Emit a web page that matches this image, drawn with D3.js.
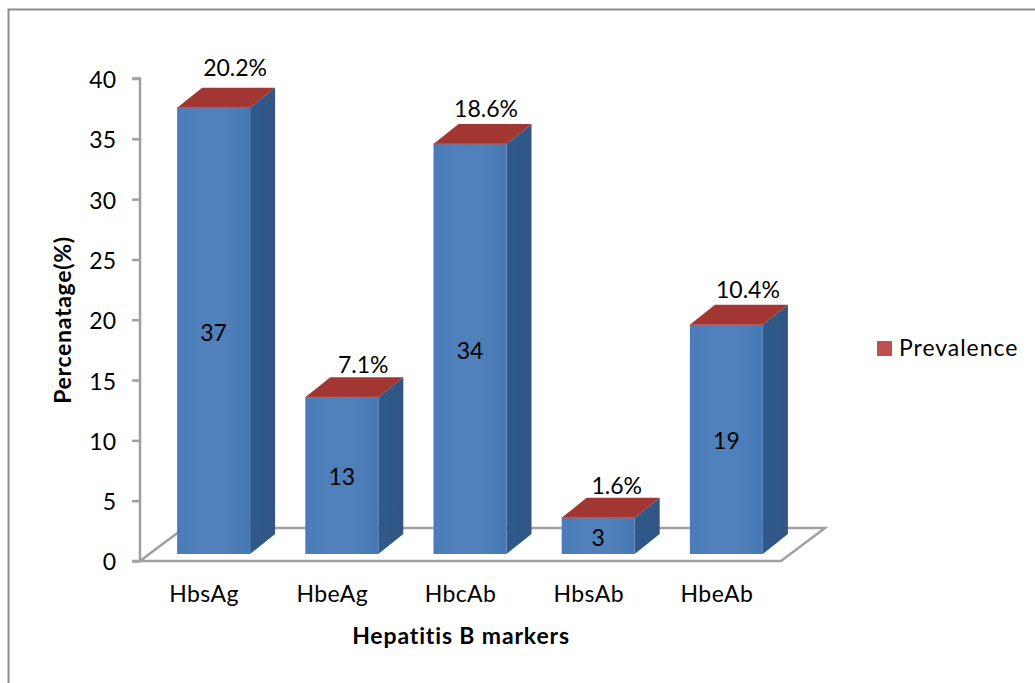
<!DOCTYPE html>
<html>
<head>
<meta charset="utf-8">
<script src="https://cdn.jsdelivr.net/npm/d3@7/dist/d3.min.js"></script>
<style>
  html, body { margin: 0; padding: 0; background: #fff; }
  svg { display: block; }
  text { font-family: Lato, "Open Sans", sans-serif; fill: #000; }
</style>
</head>
<body>
<svg id="chart" width="1035" height="683"></svg>
<script>
// Hepatitis B marker prevalence, drawn as a 3-D style column chart.
const markers = ["HbsAg", "HbeAg", "HbcAb", "HbsAb", "HbeAb"];
const counts = [37, 13, 34, 3, 19];
const prevalence = ["20.2%", "7.1%", "18.6%", "1.6%", "10.4%"];
const yTicks = [0, 5, 10, 15, 20, 25, 30, 35, 40];
const seriesName = "Prevalence";

// Hand placement of the percentage labels relative to each column's top face.
const labelNudgeX = [21.5, 21.5, 16, 18.5, 21.5];
const labelNudgeY = [-19, -11, -14, -11, -14];

const svg = d3.select("#chart");
const x = d3.scaleBand().domain(markers).range([140, 781]);
const y = d3.scaleLinear().domain([0, 40]).range([561, 78.5]);

const barWidth = 73, barShift = 9.5, baseLift = 7;
const depthX = 25, depthY = 20;
const floorX = 44, floorY = 33;
const fontSize = 23;
const tracking = 0.4;

const defs = svg.append("defs");
const frontGrad = defs.append("linearGradient").attr("id", "front");
[[0, "#4a7cba"], [0.3, "#4f80bc"], [0.6, "#4f81bb"], [1, "#4878b4"]]
  .forEach(([o, c]) => frontGrad.append("stop").attr("offset", o).attr("stop-color", c));
const sideGrad = defs.append("linearGradient").attr("id", "side");
[[0, "#2f5a8e"], [1, "#315680"]]
  .forEach(([o, c]) => sideGrad.append("stop").attr("offset", o).attr("stop-color", c));

// Frame around the chart area, open on the right and at the bottom.
svg.append("path")
  .attr("d", "M8.5,683V9.5H1035")
  .attr("fill", "none").attr("stroke", "#8c8c8c").attr("stroke-width", 2);

// Floor of the 3-D plot.
const floorLeft = x.range()[0], floorRight = x.range()[1], floorFront = y(0);
svg.append("polygon")
  .attr("points", [
    [floorLeft, floorFront],
    [floorLeft + floorX, floorFront - floorY],
    [floorRight + floorX, floorFront - floorY],
    [floorRight, floorFront]
  ].join(" "))
  .attr("fill", "#fff").attr("stroke", "#a0a0a0").attr("stroke-width", 2.5);

// Columns: right side, top face, then front.
const bars = svg.append("g").selectAll("g")
  .data(markers.map((m, i) => ({ m, v: counts[i], p: prevalence[i], i })))
  .join("g")
  .attr("class", "column");

const barLeft = d => x(d.m) + x.bandwidth() / 2 + barShift - barWidth / 2;
const barTop = d => y(d.v) - baseLift;
const barBase = y(0) - baseLift;

bars.append("polygon")
  .attr("fill", "url(#side)")
  .attr("points", d => {
    const r = barLeft(d) + barWidth;
    return [[r, barTop(d)], [r + depthX, barTop(d) - depthY], [r + depthX, barBase - depthY], [r, barBase]].join(" ");
  });

bars.append("polygon")
  .attr("fill", "#a23633")
  .attr("points", d => {
    const l = barLeft(d), t = barTop(d);
    return [[l, t], [l + depthX, t - depthY], [l + barWidth + depthX, t - depthY], [l + barWidth, t]].join(" ");
  });

bars.append("rect")
  .attr("x", barLeft)
  .attr("y", barTop)
  .attr("width", barWidth)
  .attr("height", d => barBase - barTop(d))
  .attr("fill", "url(#front)");

bars.append("line")
  .attr("x1", barLeft)
  .attr("x2", d => barLeft(d) + barWidth)
  .attr("y1", barTop)
  .attr("y2", barTop)
  .attr("stroke", "#c8524e")
  .attr("stroke-width", 1);

// Count inside the column front.
bars.append("text")
  .attr("x", d => barLeft(d) + barWidth / 2)
  .attr("y", d => (barTop(d) + barBase) / 2 + 4)
  .attr("text-anchor", "middle")
  .attr("dominant-baseline", "middle")
  .attr("font-size", fontSize)
  .text(d => d.v);

// Prevalence above the column.
bars.append("text")
  .attr("x", d => barLeft(d) + barWidth / 2 + labelNudgeX[d.i])
  .attr("y", d => barTop(d) - depthY + labelNudgeY[d.i] + 1)
  .attr("text-anchor", "middle")
  .attr("dominant-baseline", "middle")
  .attr("font-size", fontSize)
  .text(d => d.p);

// Value axis.
const yAxis = svg.append("g")
  .attr("transform", "translate(140,0)")
  .call(d3.axisLeft(y).tickValues(yTicks).tickSize(8).tickPadding(16));
yAxis.selectAll("path,line").attr("stroke", "#a0a0a0").attr("stroke-width", 2.5);
yAxis.select(".domain").attr("d", `M-8,${y(40)}H0V${y(0)}H-8`);
yAxis.attr("font-family", null).attr("font-size", null);
yAxis.selectAll("text").attr("font-size", fontSize).attr("dy", "0.39em");

// Category labels.
svg.append("g").selectAll("text")
  .data(markers)
  .join("text")
  .attr("x", d => x(d) + x.bandwidth() / 2)
  .attr("y", 596.5)
  .attr("text-anchor", "middle")
  .attr("dominant-baseline", "middle")
  .attr("font-size", fontSize)
  .attr("letter-spacing", tracking)
  .text(d => d);

// Axis titles.
svg.append("text")
  .attr("x", 461).attr("y", 638.5)
  .attr("text-anchor", "middle")
  .attr("dominant-baseline", "middle")
  .attr("font-size", 23).attr("font-weight", 700)
  .attr("letter-spacing", 0.85)
  .text("Hepatitis B markers");

svg.append("text")
  .attr("transform", "translate(65,320) rotate(-90)")
  .attr("text-anchor", "middle")
  .attr("dominant-baseline", "middle")
  .attr("font-size", 23).attr("font-weight", 700)
  .attr("letter-spacing", 0.7)
  .text("Percenatage(%)");

// Legend.
svg.append("rect")
  .attr("x", 877).attr("y", 341).attr("width", 15).attr("height", 15)
  .attr("fill", "#c0504d");
svg.append("text")
  .attr("x", 899).attr("y", 350)
  .attr("dominant-baseline", "middle")
  .attr("font-size", fontSize)
  .attr("letter-spacing", 0.95)
  .text(seriesName);
</script>
</body>
</html>
